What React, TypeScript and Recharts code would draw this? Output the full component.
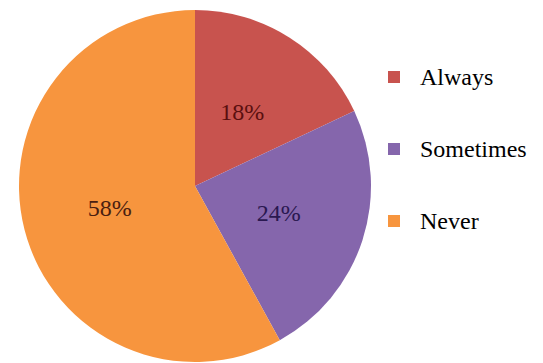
import React from 'react';
import { PieChart, Pie, Cell, Legend } from 'recharts';

const categories = ['Always', 'Sometimes', 'Never'];
const shares = [18, 24, 58];
const sliceColors = ['#C8534E', '#8566AC', '#F7953E'];
const labelColors = ['#5A0F0F', '#2A1850', '#4A2010'];

const chartData = categories.map((name, i) => ({ name, value: shares[i] }));

const RADIAN = Math.PI / 180;
const SERIF = '"Liberation Serif", "Times New Roman", Times, "DejaVu Serif", serif';

const renderSliceLabel = (props: any) => {
  const { cx, cy, midAngle, outerRadius, index, value } = props;
  const r = outerRadius * 0.5;
  const x = cx + r * Math.cos(-midAngle * RADIAN);
  const y = cy + r * Math.sin(-midAngle * RADIAN);
  return (
    <text
      x={x}
      y={y}
      fill={labelColors[index]}
      textAnchor="middle"
      dominantBaseline="central"
      fontFamily={SERIF}
      fontSize={24}
    >
      {`${value}%`}
    </text>
  );
};

const LegendList: React.FC<any> = ({ payload }) => {
  const items = categories.map((name, i) => {
    const hit = (payload || []).find((p: any) => p.value === name);
    return { name, color: hit?.color || sliceColors[i] };
  });
  return (
    <div style={{ fontFamily: SERIF, fontSize: 24, color: '#000' }}>
      {items.map(item => (
        <div key={item.name} style={{ display: 'flex', alignItems: 'center', height: 72 }}>
          <span style={{ display: 'inline-block', width: 12, height: 12, background: item.color, marginRight: 20 }} />
          <span>{item.name}</span>
        </div>
      ))}
    </div>
  );
};

export default function App() {
  return (
    <PieChart width={535} height={355}>
      <Pie
        data={chartData}
        dataKey="value"
        nameKey="name"
        cx={182}
        cy={173}
        outerRadius={176}
        startAngle={90}
        endAngle={-270}
        stroke="none"
        labelLine={false}
        label={renderSliceLabel}
        isAnimationActive={false}
      >
        {chartData.map((d, i) => (
          <Cell key={d.name} fill={sliceColors[i]} />
        ))}
      </Pie>
      <Legend
        layout="vertical"
        content={<LegendList />}
        wrapperStyle={{ left: 380, top: 33, width: 160 }}
      />
    </PieChart>
  );
}
